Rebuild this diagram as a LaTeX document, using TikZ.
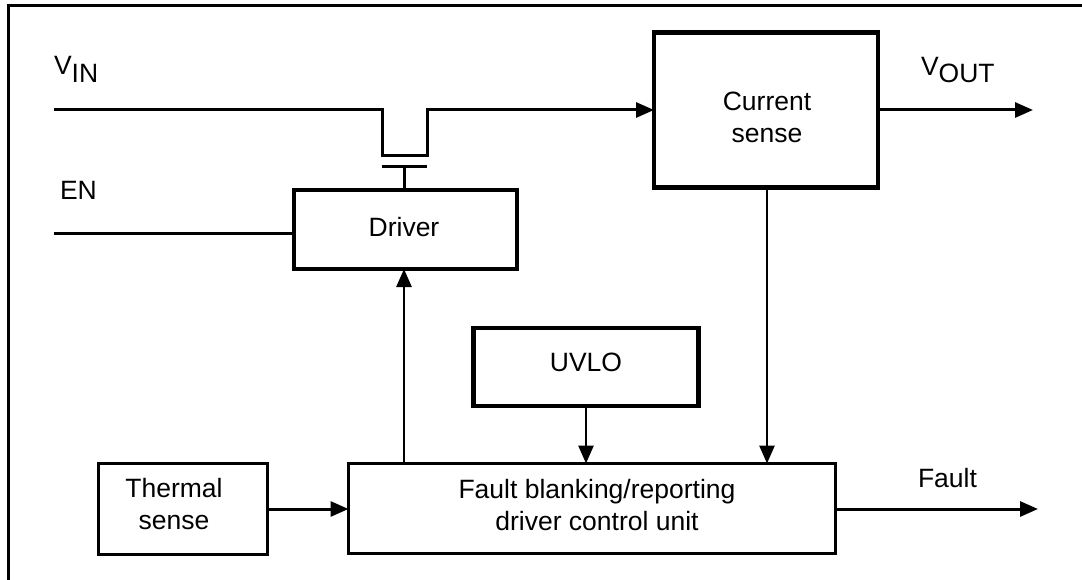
\documentclass[tikz,border=0pt]{standalone}
\usepackage{fontspec}
\setmainfont{Liberation Sans}
\usetikzlibrary{arrows.meta,calc}
\begin{document}
\begin{tikzpicture}[x=1pt,y=-1pt,
  every node/.style={inner sep=0pt, outer sep=0pt, font=\fontsize{26.5}{32}\selectfont},
  heavybox/.style={draw, rectangle, line width=4.3pt},
  lightbox/.style={draw, rectangle, line width=3pt},
  txt/.style={align=center},
  lbl/.style={anchor=base west},
  wire/.style={line width=3pt},
  sig/.style={line width=3pt, -{Triangle[length=18pt,width=15pt]}},
  vsig/.style={line width=2.8pt, -{Triangle[length=18pt,width=15pt]}},
]
\useasboundingbox (0,0) rectangle (1082,580);
% frame
\draw[line width=2.7pt] (8.5,580) -- (8.5,5.5) -- (1082,5.5);

% boxes
\node[heavybox, minimum width=224pt, minimum height=155pt] (cs) at (766,110) {};
\node[heavybox, minimum width=223pt, minimum height=79pt] (drv) at (405.5,229.5) {};
\node[heavybox, minimum width=225pt, minimum height=78pt] (uvlo) at (586,367) {};
\node[lightbox, minimum width=487pt, minimum height=90pt] (fb) at (592,508.5) {};
\node[lightbox, minimum width=169pt, minimum height=91pt] (th) at (183,509) {};

% box texts
\node[txt] (cst) at (767,117) {Current\\sense};
\node[txt] (drvt) at (404,227) {Driver};
\node[txt] (uvlot) at (586,362.5) {UVLO};
\node[txt] (tht) at (174,504.5) {Thermal\\sense};
\node[txt] (fbt) at (597,505) {Fault blanking/reporting\\driver control unit};

% labels
\node[lbl] (vinlbl) at (54,75) {V\raisebox{-8pt}{IN}};
\node[lbl] (voutlbl) at (921,76) {V\raisebox{-7pt}{OUT}};
\node[lbl] (enlbl) at (60,200) {EN};
\node[lbl] (faultlbl) at (918,487) {Fault};

% coordinates
\coordinate (vin) at (54,110);
\coordinate (en) at (54,234);
\coordinate (gate) at (404,167);
\coordinate (voutend) at (1033,110);
\coordinate (faultout) at (1038,509);

% VIN path through switch
\draw[sig] (vin) -- (382,110) -- (382,156) -- (427,156) -- (427,110) -- (cs.west);
% gate
\draw[wire] ($(gate)+(-22.5,0)$) -- ($(gate)+(22.5,0)$);
\draw[wire] (gate) -- (gate |- drv.north);
% EN
\draw[wire] (en) -- (en -| drv.west);
% VOUT
\draw[sig] (cs.east |- voutend) -- (voutend);
% vertical signals
\draw[vsig] (fb.north -| gate) -- (drv.south -| gate);
\draw[vsig] (uvlo.south) -- (uvlo.south |- fb.north);
\draw[vsig] ([xshift=1pt]cs.south) -- ([xshift=1pt]cs.south |- fb.north);
% thermal to fault unit
\draw[sig] (th.east) -- (th.east -| fb.west);
% fault output
\draw[sig] (fb.east |- faultout) -- (faultout);
\end{tikzpicture}
\end{document}
